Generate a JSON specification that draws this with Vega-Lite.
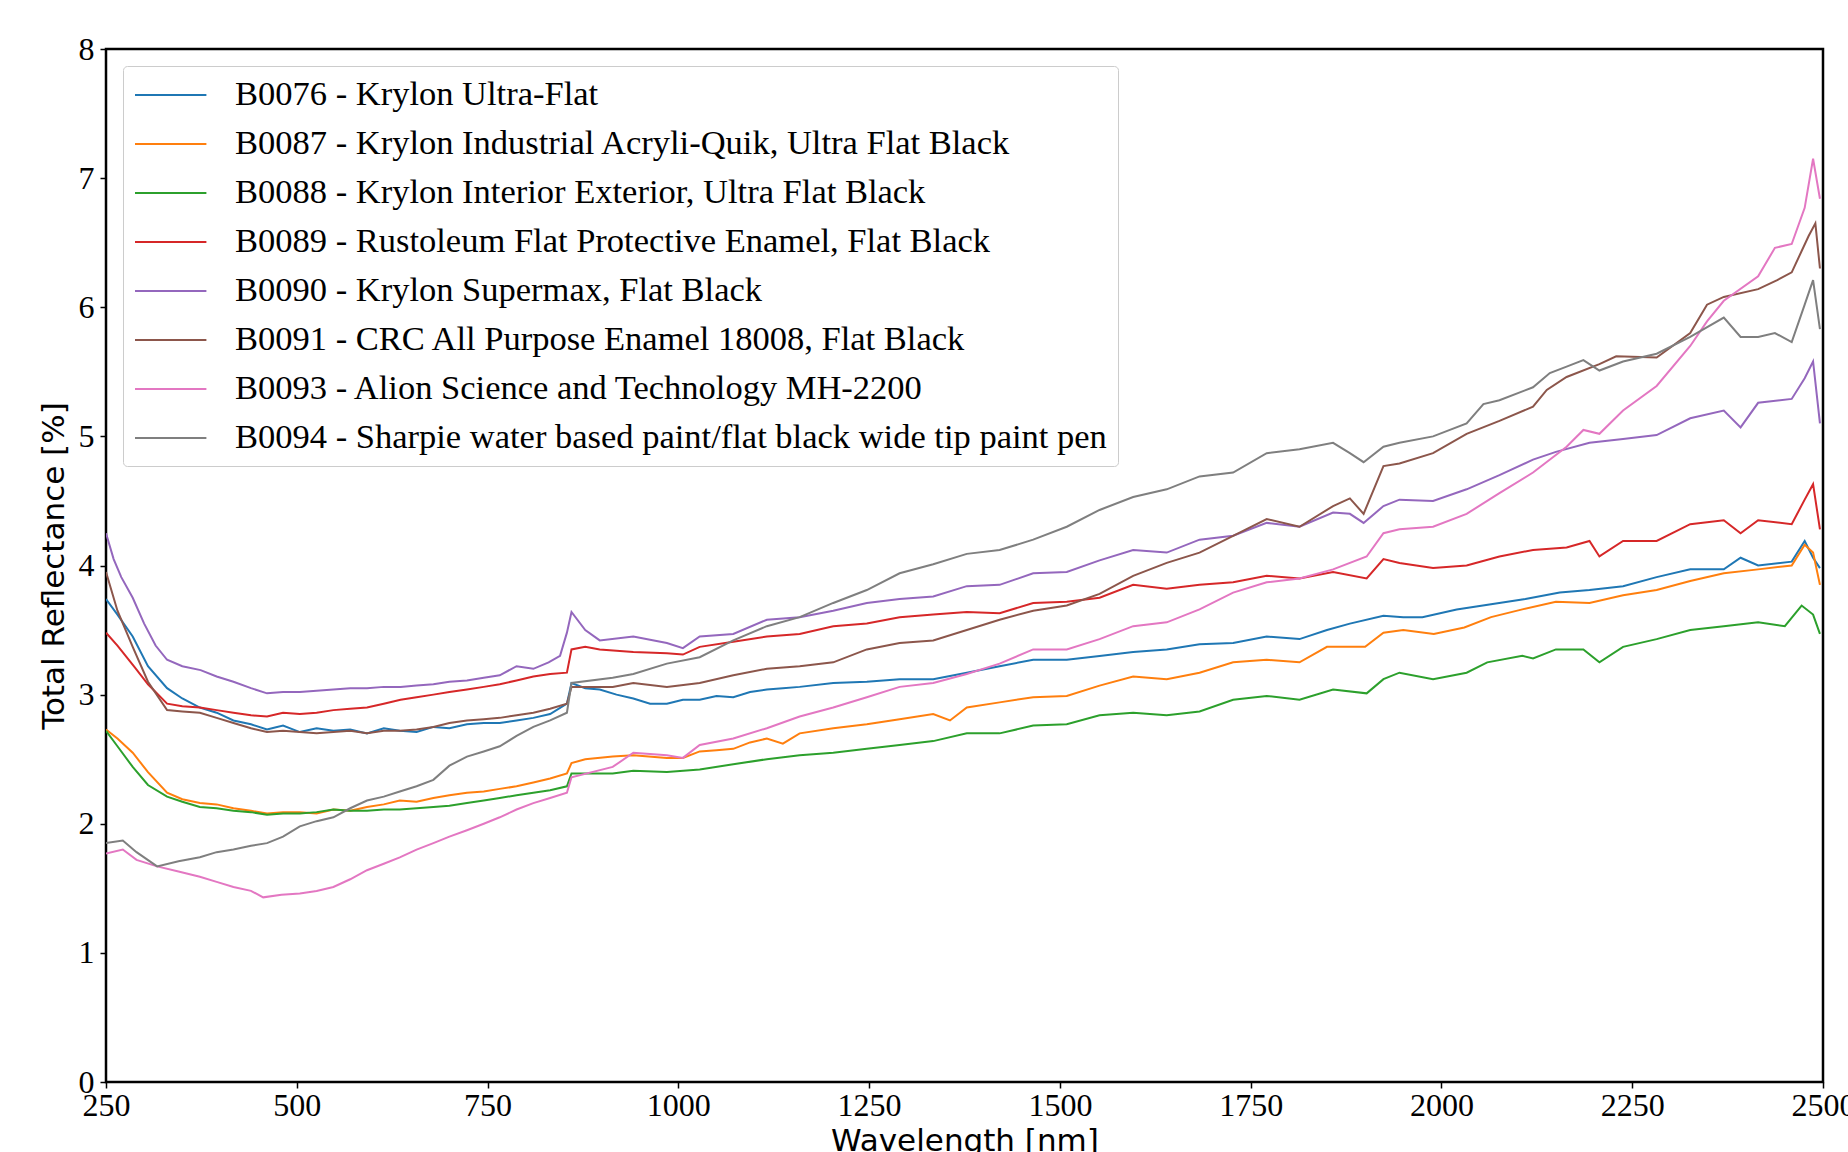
{
  "$schema": "https://vega.github.io/schema/vega-lite/v6.json",
  "autosize": "none",
  "width": 1717,
  "height": 1033,
  "padding": {"left": 106, "top": 49, "right": 25, "bottom": 70},
  "background": "white",
  "datasets": {
    "names": [
      {"k": "B0076", "name": "B0076 - Krylon Ultra-Flat"},
      {"k": "B0087", "name": "B0087 - Krylon Industrial Acryli-Quik, Ultra Flat Black"},
      {"k": "B0088", "name": "B0088 - Krylon Interior Exterior, Ultra Flat Black"},
      {"k": "B0089", "name": "B0089 - Rustoleum Flat Protective Enamel, Flat Black"},
      {"k": "B0090", "name": "B0090 - Krylon Supermax, Flat Black"},
      {"k": "B0091", "name": "B0091 - CRC All Purpose Enamel 18008, Flat Black"},
      {"k": "B0093", "name": "B0093 - Alion Science and Technology MH-2200"},
      {"k": "B0094", "name": "B0094 - Sharpie water based paint/flat black wide tip paint pen"}
    ]
  },
  "data": {"values": [
    {"k":"B0076","w":250,"r":3.74},{"k":"B0076","w":265,"r":3.62},{"k":"B0076","w":285,"r":3.45},{"k":"B0076","w":305,"r":3.22},{"k":"B0076","w":330,"r":3.05},{"k":"B0076","w":350,"r":2.97},{"k":"B0076","w":373,"r":2.90},{"k":"B0076","w":395,"r":2.86},{"k":"B0076","w":417,"r":2.80},{"k":"B0076","w":440,"r":2.77},{"k":"B0076","w":461,"r":2.73},{"k":"B0076","w":482,"r":2.76},{"k":"B0076","w":504,"r":2.71},{"k":"B0076","w":526,"r":2.74},{"k":"B0076","w":548,"r":2.72},{"k":"B0076","w":570,"r":2.73},{"k":"B0076","w":592,"r":2.70},{"k":"B0076","w":614,"r":2.74},{"k":"B0076","w":635,"r":2.72},{"k":"B0076","w":657,"r":2.71},{"k":"B0076","w":679,"r":2.75},{"k":"B0076","w":700,"r":2.74},{"k":"B0076","w":723,"r":2.77},{"k":"B0076","w":745,"r":2.78},{"k":"B0076","w":766,"r":2.78},{"k":"B0076","w":788,"r":2.80},{"k":"B0076","w":810,"r":2.82},{"k":"B0076","w":832,"r":2.85},{"k":"B0076","w":854,"r":2.93},{"k":"B0076","w":860,"r":3.09},{"k":"B0076","w":878,"r":3.05},{"k":"B0076","w":897,"r":3.04},{"k":"B0076","w":919,"r":3.00},{"k":"B0076","w":941,"r":2.97},{"k":"B0076","w":963,"r":2.93},{"k":"B0076","w":985,"r":2.93},{"k":"B0076","w":1006,"r":2.96},{"k":"B0076","w":1028,"r":2.96},{"k":"B0076","w":1050,"r":2.99},{"k":"B0076","w":1072,"r":2.98},{"k":"B0076","w":1094,"r":3.02},{"k":"B0076","w":1116,"r":3.04},{"k":"B0076","w":1137,"r":3.05},{"k":"B0076","w":1159,"r":3.06},{"k":"B0076","w":1203,"r":3.09},{"k":"B0076","w":1247,"r":3.10},{"k":"B0076","w":1290,"r":3.12},{"k":"B0076","w":1334,"r":3.12},{"k":"B0076","w":1378,"r":3.17},{"k":"B0076","w":1421,"r":3.22},{"k":"B0076","w":1465,"r":3.27},{"k":"B0076","w":1509,"r":3.27},{"k":"B0076","w":1552,"r":3.30},{"k":"B0076","w":1596,"r":3.33},{"k":"B0076","w":1640,"r":3.35},{"k":"B0076","w":1683,"r":3.39},{"k":"B0076","w":1727,"r":3.40},{"k":"B0076","w":1771,"r":3.45},{"k":"B0076","w":1814,"r":3.43},{"k":"B0076","w":1850,"r":3.50},{"k":"B0076","w":1880,"r":3.55},{"k":"B0076","w":1924,"r":3.61},{"k":"B0076","w":1950,"r":3.60},{"k":"B0076","w":1975,"r":3.60},{"k":"B0076","w":2020,"r":3.66},{"k":"B0076","w":2065,"r":3.70},{"k":"B0076","w":2110,"r":3.74},{"k":"B0076","w":2155,"r":3.79},{"k":"B0076","w":2194,"r":3.81},{"k":"B0076","w":2238,"r":3.84},{"k":"B0076","w":2282,"r":3.91},{"k":"B0076","w":2326,"r":3.97},{"k":"B0076","w":2370,"r":3.97},{"k":"B0076","w":2392,"r":4.06},{"k":"B0076","w":2415,"r":4.00},{"k":"B0076","w":2459,"r":4.03},{"k":"B0076","w":2476,"r":4.19},{"k":"B0076","w":2487,"r":4.06},{"k":"B0076","w":2496,"r":3.98},
    {"k":"B0087","w":250,"r":2.73},{"k":"B0087","w":265,"r":2.66},{"k":"B0087","w":285,"r":2.55},{"k":"B0087","w":305,"r":2.40},{"k":"B0087","w":330,"r":2.24},{"k":"B0087","w":350,"r":2.19},{"k":"B0087","w":373,"r":2.16},{"k":"B0087","w":395,"r":2.15},{"k":"B0087","w":417,"r":2.12},{"k":"B0087","w":440,"r":2.10},{"k":"B0087","w":461,"r":2.08},{"k":"B0087","w":482,"r":2.09},{"k":"B0087","w":504,"r":2.09},{"k":"B0087","w":526,"r":2.08},{"k":"B0087","w":548,"r":2.11},{"k":"B0087","w":570,"r":2.10},{"k":"B0087","w":592,"r":2.13},{"k":"B0087","w":614,"r":2.15},{"k":"B0087","w":635,"r":2.18},{"k":"B0087","w":657,"r":2.17},{"k":"B0087","w":679,"r":2.20},{"k":"B0087","w":700,"r":2.22},{"k":"B0087","w":723,"r":2.24},{"k":"B0087","w":745,"r":2.25},{"k":"B0087","w":766,"r":2.27},{"k":"B0087","w":788,"r":2.29},{"k":"B0087","w":810,"r":2.32},{"k":"B0087","w":832,"r":2.35},{"k":"B0087","w":854,"r":2.39},{"k":"B0087","w":860,"r":2.47},{"k":"B0087","w":878,"r":2.50},{"k":"B0087","w":914,"r":2.52},{"k":"B0087","w":941,"r":2.53},{"k":"B0087","w":985,"r":2.51},{"k":"B0087","w":1006,"r":2.51},{"k":"B0087","w":1028,"r":2.56},{"k":"B0087","w":1050,"r":2.57},{"k":"B0087","w":1072,"r":2.58},{"k":"B0087","w":1094,"r":2.63},{"k":"B0087","w":1116,"r":2.66},{"k":"B0087","w":1137,"r":2.62},{"k":"B0087","w":1159,"r":2.70},{"k":"B0087","w":1203,"r":2.74},{"k":"B0087","w":1247,"r":2.77},{"k":"B0087","w":1290,"r":2.81},{"k":"B0087","w":1334,"r":2.85},{"k":"B0087","w":1356,"r":2.80},{"k":"B0087","w":1378,"r":2.90},{"k":"B0087","w":1421,"r":2.94},{"k":"B0087","w":1465,"r":2.98},{"k":"B0087","w":1509,"r":2.99},{"k":"B0087","w":1552,"r":3.07},{"k":"B0087","w":1596,"r":3.14},{"k":"B0087","w":1640,"r":3.12},{"k":"B0087","w":1683,"r":3.17},{"k":"B0087","w":1727,"r":3.25},{"k":"B0087","w":1771,"r":3.27},{"k":"B0087","w":1814,"r":3.25},{"k":"B0087","w":1850,"r":3.37},{"k":"B0087","w":1900,"r":3.37},{"k":"B0087","w":1924,"r":3.48},{"k":"B0087","w":1950,"r":3.50},{"k":"B0087","w":1990,"r":3.47},{"k":"B0087","w":2030,"r":3.52},{"k":"B0087","w":2065,"r":3.60},{"k":"B0087","w":2106,"r":3.66},{"k":"B0087","w":2150,"r":3.72},{"k":"B0087","w":2194,"r":3.71},{"k":"B0087","w":2238,"r":3.77},{"k":"B0087","w":2282,"r":3.81},{"k":"B0087","w":2326,"r":3.88},{"k":"B0087","w":2370,"r":3.94},{"k":"B0087","w":2415,"r":3.97},{"k":"B0087","w":2459,"r":4.00},{"k":"B0087","w":2476,"r":4.16},{"k":"B0087","w":2487,"r":4.10},{"k":"B0087","w":2496,"r":3.85},
    {"k":"B0088","w":250,"r":2.72},{"k":"B0088","w":265,"r":2.60},{"k":"B0088","w":285,"r":2.44},{"k":"B0088","w":305,"r":2.30},{"k":"B0088","w":330,"r":2.21},{"k":"B0088","w":350,"r":2.17},{"k":"B0088","w":373,"r":2.13},{"k":"B0088","w":395,"r":2.12},{"k":"B0088","w":417,"r":2.10},{"k":"B0088","w":440,"r":2.09},{"k":"B0088","w":461,"r":2.07},{"k":"B0088","w":482,"r":2.08},{"k":"B0088","w":504,"r":2.08},{"k":"B0088","w":526,"r":2.09},{"k":"B0088","w":548,"r":2.11},{"k":"B0088","w":570,"r":2.10},{"k":"B0088","w":592,"r":2.10},{"k":"B0088","w":614,"r":2.11},{"k":"B0088","w":635,"r":2.11},{"k":"B0088","w":657,"r":2.12},{"k":"B0088","w":679,"r":2.13},{"k":"B0088","w":700,"r":2.14},{"k":"B0088","w":723,"r":2.16},{"k":"B0088","w":745,"r":2.18},{"k":"B0088","w":766,"r":2.20},{"k":"B0088","w":788,"r":2.22},{"k":"B0088","w":810,"r":2.24},{"k":"B0088","w":832,"r":2.26},{"k":"B0088","w":854,"r":2.29},{"k":"B0088","w":860,"r":2.39},{"k":"B0088","w":914,"r":2.39},{"k":"B0088","w":941,"r":2.41},{"k":"B0088","w":985,"r":2.40},{"k":"B0088","w":1028,"r":2.42},{"k":"B0088","w":1072,"r":2.46},{"k":"B0088","w":1116,"r":2.50},{"k":"B0088","w":1159,"r":2.53},{"k":"B0088","w":1203,"r":2.55},{"k":"B0088","w":1247,"r":2.58},{"k":"B0088","w":1290,"r":2.61},{"k":"B0088","w":1334,"r":2.64},{"k":"B0088","w":1378,"r":2.70},{"k":"B0088","w":1421,"r":2.70},{"k":"B0088","w":1465,"r":2.76},{"k":"B0088","w":1509,"r":2.77},{"k":"B0088","w":1552,"r":2.84},{"k":"B0088","w":1596,"r":2.86},{"k":"B0088","w":1640,"r":2.84},{"k":"B0088","w":1683,"r":2.87},{"k":"B0088","w":1727,"r":2.96},{"k":"B0088","w":1771,"r":2.99},{"k":"B0088","w":1814,"r":2.96},{"k":"B0088","w":1858,"r":3.04},{"k":"B0088","w":1902,"r":3.01},{"k":"B0088","w":1924,"r":3.12},{"k":"B0088","w":1945,"r":3.17},{"k":"B0088","w":1989,"r":3.12},{"k":"B0088","w":2033,"r":3.17},{"k":"B0088","w":2060,"r":3.25},{"k":"B0088","w":2106,"r":3.30},{"k":"B0088","w":2120,"r":3.28},{"k":"B0088","w":2150,"r":3.35},{"k":"B0088","w":2186,"r":3.35},{"k":"B0088","w":2207,"r":3.25},{"k":"B0088","w":2238,"r":3.37},{"k":"B0088","w":2282,"r":3.43},{"k":"B0088","w":2326,"r":3.50},{"k":"B0088","w":2370,"r":3.53},{"k":"B0088","w":2415,"r":3.56},{"k":"B0088","w":2450,"r":3.53},{"k":"B0088","w":2472,"r":3.69},{"k":"B0088","w":2487,"r":3.62},{"k":"B0088","w":2496,"r":3.47},
    {"k":"B0089","w":250,"r":3.48},{"k":"B0089","w":265,"r":3.38},{"k":"B0089","w":288,"r":3.21},{"k":"B0089","w":305,"r":3.08},{"k":"B0089","w":330,"r":2.93},{"k":"B0089","w":350,"r":2.91},{"k":"B0089","w":373,"r":2.90},{"k":"B0089","w":395,"r":2.88},{"k":"B0089","w":417,"r":2.86},{"k":"B0089","w":440,"r":2.84},{"k":"B0089","w":461,"r":2.83},{"k":"B0089","w":482,"r":2.86},{"k":"B0089","w":504,"r":2.85},{"k":"B0089","w":526,"r":2.86},{"k":"B0089","w":548,"r":2.88},{"k":"B0089","w":570,"r":2.89},{"k":"B0089","w":592,"r":2.90},{"k":"B0089","w":614,"r":2.93},{"k":"B0089","w":636,"r":2.96},{"k":"B0089","w":657,"r":2.98},{"k":"B0089","w":679,"r":3.00},{"k":"B0089","w":700,"r":3.02},{"k":"B0089","w":723,"r":3.04},{"k":"B0089","w":745,"r":3.06},{"k":"B0089","w":766,"r":3.08},{"k":"B0089","w":788,"r":3.11},{"k":"B0089","w":810,"r":3.14},{"k":"B0089","w":832,"r":3.16},{"k":"B0089","w":854,"r":3.17},{"k":"B0089","w":860,"r":3.35},{"k":"B0089","w":878,"r":3.37},{"k":"B0089","w":897,"r":3.35},{"k":"B0089","w":941,"r":3.33},{"k":"B0089","w":985,"r":3.32},{"k":"B0089","w":1006,"r":3.31},{"k":"B0089","w":1028,"r":3.37},{"k":"B0089","w":1072,"r":3.41},{"k":"B0089","w":1116,"r":3.45},{"k":"B0089","w":1159,"r":3.47},{"k":"B0089","w":1203,"r":3.53},{"k":"B0089","w":1247,"r":3.55},{"k":"B0089","w":1290,"r":3.60},{"k":"B0089","w":1334,"r":3.62},{"k":"B0089","w":1378,"r":3.64},{"k":"B0089","w":1421,"r":3.63},{"k":"B0089","w":1465,"r":3.71},{"k":"B0089","w":1509,"r":3.72},{"k":"B0089","w":1552,"r":3.75},{"k":"B0089","w":1596,"r":3.85},{"k":"B0089","w":1640,"r":3.82},{"k":"B0089","w":1683,"r":3.85},{"k":"B0089","w":1727,"r":3.87},{"k":"B0089","w":1771,"r":3.92},{"k":"B0089","w":1814,"r":3.90},{"k":"B0089","w":1858,"r":3.95},{"k":"B0089","w":1902,"r":3.90},{"k":"B0089","w":1924,"r":4.05},{"k":"B0089","w":1945,"r":4.02},{"k":"B0089","w":1989,"r":3.98},{"k":"B0089","w":2033,"r":4.00},{"k":"B0089","w":2076,"r":4.07},{"k":"B0089","w":2120,"r":4.12},{"k":"B0089","w":2164,"r":4.14},{"k":"B0089","w":2194,"r":4.19},{"k":"B0089","w":2207,"r":4.07},{"k":"B0089","w":2238,"r":4.19},{"k":"B0089","w":2282,"r":4.19},{"k":"B0089","w":2326,"r":4.32},{"k":"B0089","w":2370,"r":4.35},{"k":"B0089","w":2392,"r":4.25},{"k":"B0089","w":2415,"r":4.35},{"k":"B0089","w":2459,"r":4.32},{"k":"B0089","w":2476,"r":4.51},{"k":"B0089","w":2487,"r":4.63},{"k":"B0089","w":2496,"r":4.28},
    {"k":"B0090","w":250,"r":4.25},{"k":"B0090","w":260,"r":4.05},{"k":"B0090","w":270,"r":3.91},{"k":"B0090","w":285,"r":3.75},{"k":"B0090","w":300,"r":3.55},{"k":"B0090","w":315,"r":3.38},{"k":"B0090","w":330,"r":3.27},{"k":"B0090","w":350,"r":3.22},{"k":"B0090","w":374,"r":3.19},{"k":"B0090","w":395,"r":3.14},{"k":"B0090","w":417,"r":3.10},{"k":"B0090","w":440,"r":3.05},{"k":"B0090","w":461,"r":3.01},{"k":"B0090","w":482,"r":3.02},{"k":"B0090","w":504,"r":3.02},{"k":"B0090","w":526,"r":3.03},{"k":"B0090","w":548,"r":3.04},{"k":"B0090","w":570,"r":3.05},{"k":"B0090","w":592,"r":3.05},{"k":"B0090","w":614,"r":3.06},{"k":"B0090","w":636,"r":3.06},{"k":"B0090","w":657,"r":3.07},{"k":"B0090","w":679,"r":3.08},{"k":"B0090","w":700,"r":3.10},{"k":"B0090","w":723,"r":3.11},{"k":"B0090","w":745,"r":3.13},{"k":"B0090","w":766,"r":3.15},{"k":"B0090","w":788,"r":3.22},{"k":"B0090","w":810,"r":3.20},{"k":"B0090","w":830,"r":3.25},{"k":"B0090","w":845,"r":3.30},{"k":"B0090","w":854,"r":3.48},{"k":"B0090","w":860,"r":3.64},{"k":"B0090","w":878,"r":3.50},{"k":"B0090","w":897,"r":3.42},{"k":"B0090","w":941,"r":3.45},{"k":"B0090","w":985,"r":3.40},{"k":"B0090","w":1006,"r":3.36},{"k":"B0090","w":1028,"r":3.45},{"k":"B0090","w":1072,"r":3.47},{"k":"B0090","w":1116,"r":3.58},{"k":"B0090","w":1159,"r":3.60},{"k":"B0090","w":1203,"r":3.65},{"k":"B0090","w":1247,"r":3.71},{"k":"B0090","w":1290,"r":3.74},{"k":"B0090","w":1334,"r":3.76},{"k":"B0090","w":1378,"r":3.84},{"k":"B0090","w":1421,"r":3.85},{"k":"B0090","w":1465,"r":3.94},{"k":"B0090","w":1509,"r":3.95},{"k":"B0090","w":1552,"r":4.04},{"k":"B0090","w":1596,"r":4.12},{"k":"B0090","w":1640,"r":4.10},{"k":"B0090","w":1683,"r":4.20},{"k":"B0090","w":1727,"r":4.23},{"k":"B0090","w":1771,"r":4.33},{"k":"B0090","w":1814,"r":4.30},{"k":"B0090","w":1858,"r":4.41},{"k":"B0090","w":1880,"r":4.40},{"k":"B0090","w":1898,"r":4.33},{"k":"B0090","w":1924,"r":4.46},{"k":"B0090","w":1945,"r":4.51},{"k":"B0090","w":1989,"r":4.50},{"k":"B0090","w":2033,"r":4.59},{"k":"B0090","w":2076,"r":4.70},{"k":"B0090","w":2120,"r":4.82},{"k":"B0090","w":2150,"r":4.88},{"k":"B0090","w":2194,"r":4.95},{"k":"B0090","w":2238,"r":4.98},{"k":"B0090","w":2282,"r":5.01},{"k":"B0090","w":2326,"r":5.14},{"k":"B0090","w":2370,"r":5.20},{"k":"B0090","w":2392,"r":5.07},{"k":"B0090","w":2415,"r":5.26},{"k":"B0090","w":2459,"r":5.29},{"k":"B0090","w":2476,"r":5.45},{"k":"B0090","w":2487,"r":5.58},{"k":"B0090","w":2496,"r":5.10},
    {"k":"B0091","w":250,"r":3.95},{"k":"B0091","w":265,"r":3.65},{"k":"B0091","w":285,"r":3.37},{"k":"B0091","w":305,"r":3.10},{"k":"B0091","w":330,"r":2.88},{"k":"B0091","w":350,"r":2.87},{"k":"B0091","w":373,"r":2.86},{"k":"B0091","w":395,"r":2.82},{"k":"B0091","w":417,"r":2.78},{"k":"B0091","w":440,"r":2.74},{"k":"B0091","w":461,"r":2.71},{"k":"B0091","w":482,"r":2.72},{"k":"B0091","w":504,"r":2.71},{"k":"B0091","w":526,"r":2.70},{"k":"B0091","w":548,"r":2.71},{"k":"B0091","w":570,"r":2.72},{"k":"B0091","w":592,"r":2.70},{"k":"B0091","w":614,"r":2.72},{"k":"B0091","w":635,"r":2.72},{"k":"B0091","w":657,"r":2.73},{"k":"B0091","w":679,"r":2.75},{"k":"B0091","w":700,"r":2.78},{"k":"B0091","w":723,"r":2.80},{"k":"B0091","w":745,"r":2.81},{"k":"B0091","w":766,"r":2.82},{"k":"B0091","w":788,"r":2.84},{"k":"B0091","w":810,"r":2.86},{"k":"B0091","w":832,"r":2.89},{"k":"B0091","w":854,"r":2.93},{"k":"B0091","w":860,"r":3.06},{"k":"B0091","w":914,"r":3.06},{"k":"B0091","w":941,"r":3.09},{"k":"B0091","w":985,"r":3.06},{"k":"B0091","w":1028,"r":3.09},{"k":"B0091","w":1072,"r":3.15},{"k":"B0091","w":1116,"r":3.20},{"k":"B0091","w":1159,"r":3.22},{"k":"B0091","w":1203,"r":3.25},{"k":"B0091","w":1247,"r":3.35},{"k":"B0091","w":1290,"r":3.40},{"k":"B0091","w":1334,"r":3.42},{"k":"B0091","w":1378,"r":3.50},{"k":"B0091","w":1421,"r":3.58},{"k":"B0091","w":1465,"r":3.65},{"k":"B0091","w":1509,"r":3.69},{"k":"B0091","w":1552,"r":3.78},{"k":"B0091","w":1596,"r":3.92},{"k":"B0091","w":1640,"r":4.02},{"k":"B0091","w":1683,"r":4.10},{"k":"B0091","w":1727,"r":4.23},{"k":"B0091","w":1771,"r":4.36},{"k":"B0091","w":1814,"r":4.30},{"k":"B0091","w":1858,"r":4.46},{"k":"B0091","w":1880,"r":4.52},{"k":"B0091","w":1898,"r":4.40},{"k":"B0091","w":1924,"r":4.77},{"k":"B0091","w":1945,"r":4.79},{"k":"B0091","w":1989,"r":4.87},{"k":"B0091","w":2033,"r":5.02},{"k":"B0091","w":2076,"r":5.12},{"k":"B0091","w":2120,"r":5.23},{"k":"B0091","w":2138,"r":5.36},{"k":"B0091","w":2164,"r":5.46},{"k":"B0091","w":2207,"r":5.56},{"k":"B0091","w":2229,"r":5.62},{"k":"B0091","w":2282,"r":5.61},{"k":"B0091","w":2326,"r":5.80},{"k":"B0091","w":2348,"r":6.02},{"k":"B0091","w":2370,"r":6.08},{"k":"B0091","w":2415,"r":6.14},{"k":"B0091","w":2440,"r":6.21},{"k":"B0091","w":2459,"r":6.27},{"k":"B0091","w":2481,"r":6.55},{"k":"B0091","w":2490,"r":6.65},{"k":"B0091","w":2496,"r":6.30},
    {"k":"B0093","w":250,"r":1.77},{"k":"B0093","w":272,"r":1.80},{"k":"B0093","w":290,"r":1.72},{"k":"B0093","w":317,"r":1.67},{"k":"B0093","w":345,"r":1.63},{"k":"B0093","w":373,"r":1.59},{"k":"B0093","w":395,"r":1.55},{"k":"B0093","w":417,"r":1.51},{"k":"B0093","w":440,"r":1.48},{"k":"B0093","w":456,"r":1.43},{"k":"B0093","w":480,"r":1.45},{"k":"B0093","w":504,"r":1.46},{"k":"B0093","w":526,"r":1.48},{"k":"B0093","w":548,"r":1.51},{"k":"B0093","w":570,"r":1.57},{"k":"B0093","w":592,"r":1.64},{"k":"B0093","w":614,"r":1.69},{"k":"B0093","w":635,"r":1.74},{"k":"B0093","w":657,"r":1.80},{"k":"B0093","w":679,"r":1.85},{"k":"B0093","w":700,"r":1.90},{"k":"B0093","w":723,"r":1.95},{"k":"B0093","w":745,"r":2.00},{"k":"B0093","w":766,"r":2.05},{"k":"B0093","w":788,"r":2.11},{"k":"B0093","w":810,"r":2.16},{"k":"B0093","w":832,"r":2.20},{"k":"B0093","w":854,"r":2.24},{"k":"B0093","w":860,"r":2.36},{"k":"B0093","w":914,"r":2.44},{"k":"B0093","w":941,"r":2.55},{"k":"B0093","w":985,"r":2.53},{"k":"B0093","w":1006,"r":2.51},{"k":"B0093","w":1028,"r":2.61},{"k":"B0093","w":1072,"r":2.66},{"k":"B0093","w":1116,"r":2.74},{"k":"B0093","w":1159,"r":2.83},{"k":"B0093","w":1203,"r":2.90},{"k":"B0093","w":1247,"r":2.98},{"k":"B0093","w":1290,"r":3.06},{"k":"B0093","w":1334,"r":3.09},{"k":"B0093","w":1378,"r":3.16},{"k":"B0093","w":1421,"r":3.24},{"k":"B0093","w":1465,"r":3.35},{"k":"B0093","w":1509,"r":3.35},{"k":"B0093","w":1552,"r":3.43},{"k":"B0093","w":1596,"r":3.53},{"k":"B0093","w":1640,"r":3.56},{"k":"B0093","w":1683,"r":3.66},{"k":"B0093","w":1727,"r":3.79},{"k":"B0093","w":1771,"r":3.87},{"k":"B0093","w":1814,"r":3.90},{"k":"B0093","w":1858,"r":3.97},{"k":"B0093","w":1902,"r":4.07},{"k":"B0093","w":1924,"r":4.25},{"k":"B0093","w":1945,"r":4.28},{"k":"B0093","w":1989,"r":4.30},{"k":"B0093","w":2033,"r":4.40},{"k":"B0093","w":2076,"r":4.56},{"k":"B0093","w":2120,"r":4.72},{"k":"B0093","w":2164,"r":4.92},{"k":"B0093","w":2186,"r":5.05},{"k":"B0093","w":2207,"r":5.02},{"k":"B0093","w":2238,"r":5.20},{"k":"B0093","w":2282,"r":5.39},{"k":"B0093","w":2326,"r":5.70},{"k":"B0093","w":2348,"r":5.89},{"k":"B0093","w":2370,"r":6.05},{"k":"B0093","w":2415,"r":6.24},{"k":"B0093","w":2437,"r":6.46},{"k":"B0093","w":2459,"r":6.49},{"k":"B0093","w":2476,"r":6.77},{"k":"B0093","w":2487,"r":7.15},{"k":"B0093","w":2496,"r":6.84},
    {"k":"B0094","w":250,"r":1.85},{"k":"B0094","w":272,"r":1.87},{"k":"B0094","w":290,"r":1.78},{"k":"B0094","w":317,"r":1.67},{"k":"B0094","w":345,"r":1.71},{"k":"B0094","w":373,"r":1.74},{"k":"B0094","w":395,"r":1.78},{"k":"B0094","w":417,"r":1.80},{"k":"B0094","w":440,"r":1.83},{"k":"B0094","w":461,"r":1.85},{"k":"B0094","w":482,"r":1.90},{"k":"B0094","w":504,"r":1.98},{"k":"B0094","w":526,"r":2.02},{"k":"B0094","w":548,"r":2.05},{"k":"B0094","w":570,"r":2.12},{"k":"B0094","w":592,"r":2.18},{"k":"B0094","w":614,"r":2.21},{"k":"B0094","w":635,"r":2.25},{"k":"B0094","w":657,"r":2.29},{"k":"B0094","w":679,"r":2.34},{"k":"B0094","w":700,"r":2.45},{"k":"B0094","w":723,"r":2.52},{"k":"B0094","w":745,"r":2.56},{"k":"B0094","w":766,"r":2.60},{"k":"B0094","w":788,"r":2.68},{"k":"B0094","w":810,"r":2.75},{"k":"B0094","w":832,"r":2.80},{"k":"B0094","w":854,"r":2.86},{"k":"B0094","w":860,"r":3.09},{"k":"B0094","w":914,"r":3.13},{"k":"B0094","w":941,"r":3.16},{"k":"B0094","w":985,"r":3.24},{"k":"B0094","w":1028,"r":3.29},{"k":"B0094","w":1072,"r":3.42},{"k":"B0094","w":1116,"r":3.53},{"k":"B0094","w":1159,"r":3.60},{"k":"B0094","w":1203,"r":3.71},{"k":"B0094","w":1247,"r":3.81},{"k":"B0094","w":1290,"r":3.94},{"k":"B0094","w":1334,"r":4.01},{"k":"B0094","w":1378,"r":4.09},{"k":"B0094","w":1421,"r":4.12},{"k":"B0094","w":1465,"r":4.20},{"k":"B0094","w":1509,"r":4.30},{"k":"B0094","w":1552,"r":4.43},{"k":"B0094","w":1596,"r":4.53},{"k":"B0094","w":1640,"r":4.59},{"k":"B0094","w":1683,"r":4.69},{"k":"B0094","w":1727,"r":4.72},{"k":"B0094","w":1771,"r":4.87},{"k":"B0094","w":1814,"r":4.90},{"k":"B0094","w":1858,"r":4.95},{"k":"B0094","w":1880,"r":4.87},{"k":"B0094","w":1898,"r":4.80},{"k":"B0094","w":1924,"r":4.92},{"k":"B0094","w":1945,"r":4.95},{"k":"B0094","w":1989,"r":5.00},{"k":"B0094","w":2033,"r":5.10},{"k":"B0094","w":2055,"r":5.25},{"k":"B0094","w":2076,"r":5.28},{"k":"B0094","w":2120,"r":5.38},{"k":"B0094","w":2142,"r":5.49},{"k":"B0094","w":2164,"r":5.54},{"k":"B0094","w":2186,"r":5.59},{"k":"B0094","w":2207,"r":5.51},{"k":"B0094","w":2238,"r":5.58},{"k":"B0094","w":2282,"r":5.64},{"k":"B0094","w":2326,"r":5.77},{"k":"B0094","w":2370,"r":5.92},{"k":"B0094","w":2392,"r":5.77},{"k":"B0094","w":2415,"r":5.77},{"k":"B0094","w":2437,"r":5.80},{"k":"B0094","w":2459,"r":5.73},{"k":"B0094","w":2476,"r":6.02},{"k":"B0094","w":2487,"r":6.21},{"k":"B0094","w":2496,"r":5.83}
  ]},
  "transform": [
    {"lookup": "k", "from": {"data": {"name": "names"}, "key": "k", "fields": ["name"]}}
  ],
  "mark": {"type": "line", "strokeWidth": 2, "clip": true},
  "encoding": {
    "x": {
      "field": "w", "type": "quantitative",
      "scale": {"domain": [250, 2500], "nice": false, "zero": false},
      "axis": {"title": "Wavelength [nm]", "values": [250, 500, 750, 1000, 1250, 1500, 1750, 2000, 2250, 2500], "format": "d", "labelFlush": false, "labelPadding": 2, "titlePadding": 5}
    },
    "y": {
      "field": "r", "type": "quantitative",
      "scale": {"domain": [0, 8], "nice": false},
      "axis": {"title": "Total Reflectance [%]", "values": [0, 1, 2, 3, 4, 5, 6, 7, 8], "format": "d", "labelPadding": 6, "titlePadding": 8}
    },
    "color": {
      "field": "name", "type": "nominal",
      "sort": null,
      "scale": {
        "domain": [
          "B0076 - Krylon Ultra-Flat",
          "B0087 - Krylon Industrial Acryli-Quik, Ultra Flat Black",
          "B0088 - Krylon Interior Exterior, Ultra Flat Black",
          "B0089 - Rustoleum Flat Protective Enamel, Flat Black",
          "B0090 - Krylon Supermax, Flat Black",
          "B0091 - CRC All Purpose Enamel 18008, Flat Black",
          "B0093 - Alion Science and Technology MH-2200",
          "B0094 - Sharpie water based paint/flat black wide tip paint pen"
        ],
        "range": ["#1f77b4", "#ff7f0e", "#2ca02c", "#d62728", "#9467bd", "#8c564b", "#e377c2", "#7f7f7f"]
      },
      "legend": {
        "title": null,
        "orient": "top-left",
        "offset": 17,
        "symbolType": "M-1,0H3.2",
        "symbolSize": 1156,
        "symbolStrokeWidth": 2,
        "symbolFillColor": "transparent",
        "labelFont": "Liberation Serif",
        "labelFontSize": 34.5,
        "labelColor": "black",
        "labelLimit": 2000,
        "labelOffset": 65,
        "rowPadding": 14,
        "padding": 11,
        "fillColor": "white",
        "strokeColor": "#cccccc",
        "cornerRadius": 4
      }
    },
    "detail": {"field": "k"}
  },
  "config": {
    "view": {"stroke": "black", "strokeWidth": 2.5},
    "axis": {
      "domain": false,
      "grid": false,
      "labelFont": "Liberation Serif",
      "labelFontSize": 32,
      "labelColor": "black",
      "tickColor": "black",
      "tickSize": 6,
      "tickWidth": 1.5,
      "titleFont": "DejaVu Sans",
      "titleFontSize": 31,
      "titleFontWeight": "normal",
      "titleColor": "black"
    }
  }
}
